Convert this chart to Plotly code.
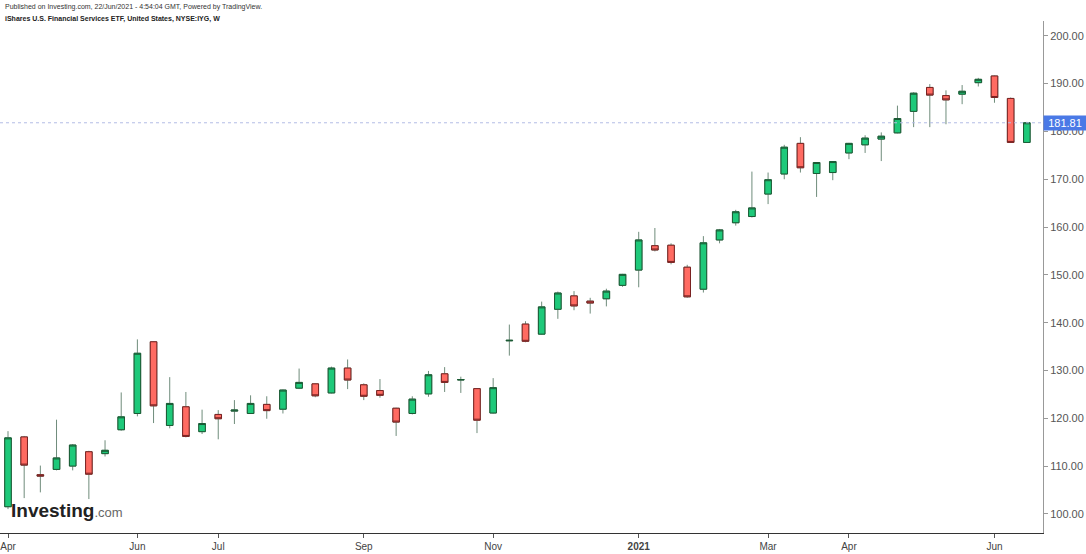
import pandas as pd
import plotly.graph_objects as go

# Bougies hebdomadaires IYG, avril 2020 -> juin 2021
weeks = pd.date_range("2020-04-06", periods=64, freq="W-MON")
opens = [101.5, 116.1, 108.2, 109.3, 110.0, 113.0, 112.6, 117.6, 121.0, 136.0,
         118.5, 122.4, 117.2, 120.8, 121.5, 121.0, 122.9, 121.9, 126.3, 127.2,
         125.3, 130.5, 127.0, 125.8, 122.1, 121.0, 125.1, 129.3, 128.0, 126.2,
         121.1, 136.2, 139.7, 137.6, 142.8, 145.6, 144.5, 145.0, 147.8, 151.0,
         156.1, 156.2, 151.6, 147.0, 157.3, 160.9, 162.2, 166.9, 171.1, 177.5,
         171.2, 171.4, 175.5, 177.2, 178.4, 179.7, 184.2, 189.2, 187.5, 187.8,
         190.2, 191.6, 186.9, 177.7]
highs = [117.3, 116.3, 110.1, 119.7, 114.6, 113.2, 115.4, 125.4, 136.5, 136.1,
         128.6, 125.5, 121.8, 121.7, 123.8, 124.8, 124.6, 126.0, 130.4, 127.3,
         130.8, 132.3, 127.3, 128.2, 122.2, 124.6, 129.9, 130.7, 128.7, 126.3,
         128.4, 139.6, 140.3, 144.4, 146.5, 146.6, 145.2, 147.1, 150.2, 159.0,
         159.8, 156.6, 152.1, 158.1, 159.6, 163.6, 171.6, 171.4, 177.2, 178.8,
         173.6, 173.8, 177.6, 179.2, 179.8, 185.4, 188.2, 189.9, 188.6, 189.7,
         191.2, 191.7, 187.1, 182.0]
lows = [101.0, 103.3, 104.5, 109.1, 109.1, 103.1, 112.0, 117.4, 120.4, 119.0,
        117.9, 116.0, 116.7, 115.6, 118.8, 120.9, 119.9, 121.0, 126.1, 124.4,
        125.2, 126.1, 123.8, 124.3, 116.3, 120.8, 124.5, 125.5, 125.3, 116.9,
        121.0, 133.1, 135.9, 137.5, 140.8, 142.6, 141.9, 143.4, 147.5, 147.4,
        154.9, 152.2, 145.2, 146.3, 156.6, 160.3, 162.0, 164.8, 170.0, 171.4,
        166.3, 169.8, 174.2, 175.5, 173.8, 179.6, 180.9, 180.9, 181.5, 185.7,
        189.4, 186.0, 177.6, 177.6]
closes = [115.9, 110.2, 107.9, 111.7, 114.4, 108.3, 113.3, 120.3, 133.6, 122.6,
          123.1, 116.2, 118.9, 119.9, 121.7, 123.1, 121.6, 125.9, 127.5, 124.7,
          130.5, 128.0, 124.6, 124.8, 119.2, 124.0, 129.1, 127.5, 128.1, 119.6,
          126.4, 136.3, 136.1, 143.3, 146.2, 143.5, 144.1, 146.6, 150.1, 157.3,
          155.2, 152.6, 145.4, 156.7, 159.4, 163.2, 164.0, 169.9, 176.7, 172.4,
          173.5, 173.7, 177.5, 178.6, 179.0, 182.7, 188.0, 187.6, 186.6, 188.4,
          190.9, 187.1, 177.7, 181.81]
last_price = 181.81

tick_idx = [0, 8, 13, 22, 30, 39, 47, 52, 61]
tick_text = ["Apr", "Jun", "Jul", "Sep", "Nov", "<b>2021</b>", "Mar", "Apr", "Jun"]

GREEN, RED = "#1ec97a", "#ff6b62"
FONT = "Liberation Sans, Arial, sans-serif"

week = pd.Timedelta(weeks=1)
x_range = [weeks[0] - 0.495 * week, weeks[0] + 64.0 * week]

fig = go.Figure()
# Mèches (gris-vert) dessinées d'abord
fig.add_trace(go.Candlestick(
    x=weeks, open=opens, high=highs, low=lows, close=closes,
    increasing=dict(line=dict(color="#6f8c7b", width=1), fillcolor=GREEN),
    decreasing=dict(line=dict(color="#6f8c7b", width=1), fillcolor=RED),
    showlegend=False, hoverinfo="skip"))
# Corps avec bordure foncée par-dessus
body_hi = [max(o, c) for o, c in zip(opens, closes)]
body_lo = [min(o, c) for o, c in zip(opens, closes)]
fig.add_trace(go.Candlestick(
    x=weeks, open=opens, high=body_hi, low=body_lo, close=closes,
    increasing=dict(line=dict(color="#1b5a34", width=1), fillcolor=GREEN),
    decreasing=dict(line=dict(color="#7a2222", width=1), fillcolor=RED),
    showlegend=False))

fig.add_hline(y=last_price, line=dict(color="#b3bde6", width=1, dash="dot"))

fig.update_layout(
    width=1086, height=554,
    margin=dict(l=0, r=43, t=21, b=21),
    paper_bgcolor="white", plot_bgcolor="white",
    boxgap=0.42,
    font=dict(family=FONT, size=11, color="#555"),
    xaxis=dict(type="date", range=x_range, rangeslider=dict(visible=False),
               tickvals=[weeks[i] for i in tick_idx], ticktext=tick_text,
               showgrid=False, showline=True, linecolor="#333", linewidth=1,
               ticks="outside", ticklen=4, tickcolor="#555",
               tickfont=dict(family="Liberation Sans Narrow, Arial Narrow, " + FONT,
                             size=10, color="#444")),
    yaxis=dict(side="right", range=[96.0, 203.1], dtick=10, tickformat=".2f",
               showgrid=False, showline=True, linecolor="#999", linewidth=1,
               ticks="outside", ticklen=4, tickcolor="#999",
               tickfont=dict(size=11, color="#555"), zeroline=False),
    annotations=[
        dict(text="Published on Investing.com, 22/Jun/2021 - 4:54:04 GMT, Powered by TradingView.",
             xref="paper", yref="paper", x=0, y=1, xanchor="left", yanchor="middle",
             xshift=3, yshift=14, showarrow=False,
             font=dict(family=FONT, size=7, color="#333")),
        dict(text="<b>iShares U.S. Financial Services ETF, United States, NYSE:IYG, W</b>",
             xref="paper", yref="paper", x=0, y=1, xanchor="left", yanchor="middle",
             xshift=3, yshift=2, showarrow=False,
             font=dict(family=FONT, size=7, color="#222")),
        dict(text="<b>Investing</b><span style='font-size:13px;color:#666'>.com</span>",
             xref="paper", yref="paper", x=0, y=0, xanchor="left", yanchor="bottom",
             xshift=9, yshift=10, showarrow=False,
             font=dict(family=FONT, size=19, color="#222")),
        dict(text=f"{last_price:.2f}", xref="paper", yref="y", x=1, y=last_price,
             xanchor="left", yanchor="middle", showarrow=False,
             bgcolor="#4a79e6", borderpad=1, width=40,
             font=dict(family=FONT, size=11, color="white")),
    ],
)

# la page ne doit pas ajouter de marge autour du graphique
fig.write_html("out.html", config={"displayModeBar": False},
               post_script="document.body.style.margin='0';")
